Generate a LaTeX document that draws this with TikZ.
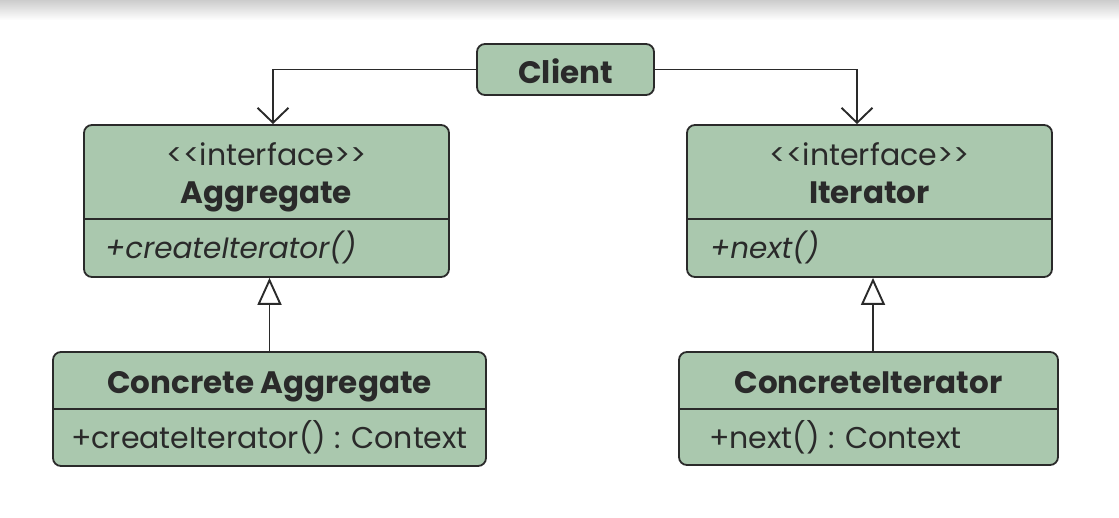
\documentclass[tikz,border=0pt]{standalone}
\usepackage{fontspec}
\setmainfont{Poppins}
\usetikzlibrary{arrows.meta}
\definecolor{sage}{RGB}{170,200,174}
\definecolor{ink}{RGB}{42,42,42}
\begin{document}
\begin{tikzpicture}[x=1pt,y=-1pt,
  umlbox/.style={draw=ink, line width=1.8pt, fill=sage, rounded corners=8pt, inner sep=0pt},
  txt/.style={inner sep=0pt, anchor=base, text=ink, font=\fontsize{30}{34}\selectfont},
  title/.style={txt, font=\fontsize{31}{34}\selectfont\bfseries},
  stereo/.style={txt},
  meth/.style={txt, anchor=base west},
  imeth/.style={txt, anchor=base west, font=\fontsize{29.5}{34}\selectfont\itshape},
  divider/.style={draw=ink, line width=1.7pt},
  uses/.style={draw=ink, line width=1.9pt, -{Straight Barb[length=15pt,width=31pt]}},
  inherits/.style={draw=ink, line width=1.9pt, -{Triangle[open, length=27pt, width=24pt, fill=white]}}
]
\useasboundingbox (0,0) rectangle (1119,518);
\shade[top color=black!20, bottom color=white] (0,0) rectangle (1119,20);

% class boxes
\node[umlbox, minimum width=177pt, minimum height=51pt] (client) at (565.5,69.5) {};
\node[umlbox, minimum width=365pt, minimum height=152pt] (agg) at (266.5,201) {};
\node[umlbox, minimum width=365pt, minimum height=152pt] (iter) at (869.5,201) {};
\node[umlbox, minimum width=433pt, minimum height=114pt] (cagg) at (269.5,409) {};
\node[umlbox, minimum width=379pt, minimum height=113pt] (citer) at (868.5,408.5) {};

% compartment dividers
\path[divider] (agg.west |- 0,219) -- (agg.east |- 0,219);
\path[divider] (iter.west |- 0,219) -- (iter.east |- 0,219);
\path[divider] (cagg.west |- 0,409) -- (cagg.east |- 0,409);
\path[divider] (citer.west |- 0,409) -- (citer.east |- 0,409);

% labels
\node[title] (clientname) at (565.5,83.5) {Client};
\node[stereo] (aggstereo) at (266.5,165.5) {<{}<interface>{}>};
\node[title] (aggname) at (266.5,203.5) {Aggregate};
\node[imeth] (aggop) at (105,258.5) {+createIterator()};
\node[stereo] (iterstereo) at (869.5,165.5) {<{}<interface>{}>};
\node[title] (itername) at (869.5,203.5) {Iterator};
\node[imeth] (iterop) at (710,258.5) {+next()};
\node[title] (caggname) at (269.5,393.5) {Concrete Aggregate};
\node[meth] (caggop) at (71,448.5) {+createIterator() : Context};
\node[title] (citername) at (868.5,393.5) {ConcreteIterator};
\node[meth] (citerop) at (709,448.5) {+next() : Context};

% associations from the client
\draw[uses] (client.west) -| ([xshift=6.5pt]agg.north);
\draw[uses] (client.east) -| ([xshift=-12.5pt]iter.north);

% realisations
\draw[inherits] (cagg.north) -- (cagg.north |- agg.south);
\draw[inherits] ([xshift=4.5pt]citer.north) -- ([xshift=4.5pt]citer.north |- iter.south);
\end{tikzpicture}
\end{document}
